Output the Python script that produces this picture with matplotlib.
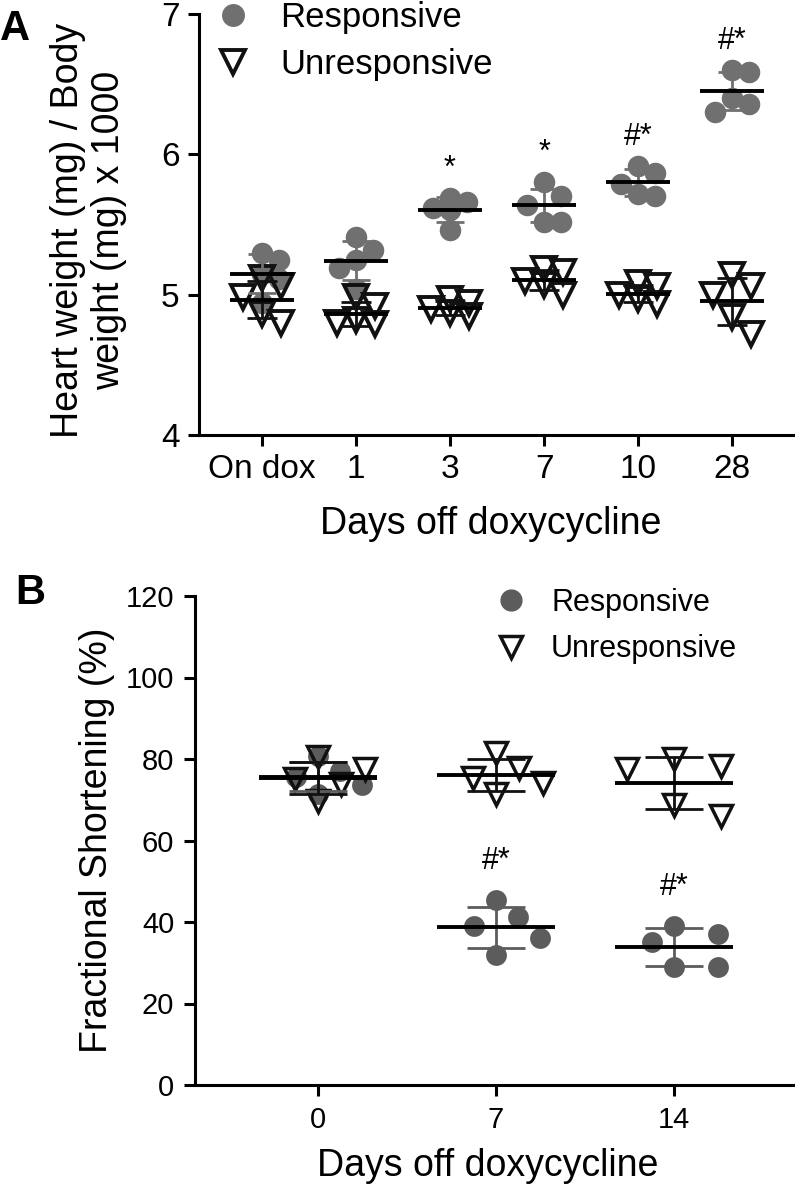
import matplotlib
matplotlib.use('Agg')
import matplotlib.pyplot as plt
from matplotlib.lines import Line2D
import numpy as np

plt.rcParams['font.family'] = ['Liberation Sans', 'DejaVu Sans']

# Panel A: heart weight / body weight x 1000
days_a = ['On dox', '1', '3', '7', '10', '28']
resp_a = [
    [5.30, 5.25, 5.15, 5.11, 4.94],
    [5.41, 5.32, 5.25, 5.19, 5.04],
    [5.69, 5.66, 5.62, 5.60, 5.46],
    [5.80, 5.70, 5.64, 5.52, 5.52],
    [5.92, 5.87, 5.79, 5.72, 5.70],
    [6.60, 6.59, 6.40, 6.36, 6.30],
]
unresp_a = [
    [5.12, 5.06, 4.98, 4.86, 4.80],
    [4.98, 4.92, 4.82, 4.80, 4.79],
    [4.97, 4.94, 4.90, 4.87, 4.85],
    [5.18, 5.16, 5.10, 5.07, 5.00],
    [5.08, 5.06, 5.00, 4.97, 4.93],
    [5.14, 5.06, 5.00, 4.84, 4.72],
]
signif_a = ['', '', '*', '*', '#*', '#*']

# Panel B: fractional shortening (%)
days_b = ['0', '7', '14']
resp_b = [
    [80.8, 77.1, 75.5, 73.5, 71.4],
    [45.3, 41.2, 38.9, 36.1, 31.8],
    [38.9, 37.1, 35.1, 28.9, 28.9],
]
unresp_b = [
    [80.4, 77.6, 75.1, 73.9, 69.8],
    [81.5, 77.8, 75.4, 74.2, 71.3],
    [80.0, 78.2, 77.6, 68.8, 66.0],
]
signif_b = ['', '#*', '#*']

W, H = 795, 1190
fig = plt.figure(figsize=(W / 100, H / 100), dpi=100)


def swarm_x(ax, center, vals, diam, spread=1, step=0.8, gap=0.9):
    # small beeswarm in pixel space, overlap allowed like the original software
    vals = np.asarray(vals, float)
    disp = ax.transData.transform(np.column_stack([np.full(len(vals), center), vals]))
    x0, ys = disp[0, 0], disp[:, 1]
    placed = []
    dxs = np.zeros(len(vals))
    ks = [0]
    for k in range(1, spread + 1):
        ks += [k, -k]
    for i in np.argsort(ys)[::-1]:
        best, best_d = 0.0, -1
        for k in ks:
            cand = k * diam * step
            d = min([np.hypot(cand - px, ys[i] - py) for px, py in placed] + [1e9])
            if d >= gap * diam:
                best = cand
                break
            if d > best_d:
                best, best_d = cand, d
        placed.append((best, ys[i]))
        dxs[i] = best
    inv = ax.transData.inverted()
    return inv.transform(np.column_stack([x0 + dxs, ys]))[:, 0]


def style_axis(ax, tick_fs, pad):
    for s in ['top', 'right']:
        ax.spines[s].set_visible(False)
    for s in ['left', 'bottom']:
        ax.spines[s].set_linewidth(2.2)
    ax.tick_params(width=2.2, length=8, labelsize=tick_fs, pad=pad, direction='out')


def draw_group(ax, xc, vals, marker, ms, face, edge, ebar_col, capsize, half, mew,
               spread, step, gap):
    xs = swarm_x(ax, xc, vals, ms * 100 / 72, spread, step, gap)
    ax.plot(xs, vals, linestyle='none', marker=marker, ms=ms, mfc=face, mec=edge,
            mew=mew, zorder=2, clip_on=False)
    m, sd = np.mean(vals), np.std(vals, ddof=1)
    ax.errorbar(xc, m, yerr=sd, fmt='none', ecolor=ebar_col, elinewidth=2.0,
                capsize=capsize, capthick=2.0, zorder=3)
    ax.hlines(m, xc - half, xc + half, color='black', lw=2.8, zorder=4)


# ---------------- Panel A ----------------
gray_a = '#707070'
ax1 = fig.add_axes([199 / W, 1 - 435 / H, 1 - 199 / W, (435 - 14) / H])
ax1.set_xlim(-0.67, 5.67)
ax1.set_ylim(4, 7)
ax1.set_yticks([4, 5, 6, 7])
ax1.set_xticks(range(len(days_a)))
ax1.set_xticklabels(days_a)
style_axis(ax1, 24, 6)

for i in range(len(days_a)):
    draw_group(ax1, i, resp_a[i], 'o', 15.5, gray_a, gray_a, gray_a, 10, 0.34, 0, 1, 0.8, 0.9)
    draw_group(ax1, i, unresp_a[i], 'v', 17, 'none', '#111111', '#111111', 11, 0.34, 2.8, 1, 0.8, 0.9)
    if signif_a[i]:
        ax1.text(i, max(resp_a[i]) + 0.1, signif_a[i], ha='center', va='bottom', fontsize=22)

ax1.set_ylabel('Heart weight (mg) / Body\nweight (mg) x 1000', fontsize=27, ma='center', va='center')
ax1.yaxis.set_label_coords(-0.185, 0.487)
ax1.set_xlabel('Days off doxycycline', fontsize=27, va='center')
ax1.xaxis.set_label_coords(0.49, -0.211)

handles_a = [Line2D([], [], ls='none', marker='o', ms=15.5, mfc=gray_a, mec=gray_a),
             Line2D([], [], ls='none', marker='v', ms=17, mfc='none', mec='#111111', mew=2.8)]
ax1.legend(handles_a, ['Responsive', 'Unresponsive'], loc='center left',
           bbox_to_anchor=(216 / W, 1 - 41 / H), bbox_transform=fig.transFigure,
           frameon=False, fontsize=25, borderpad=0, handlelength=1.0,
           handletextpad=0.85, labelspacing=0.42, borderaxespad=0)

fig.text(0, 1 - 40 / H, 'A', fontsize=30, fontweight='bold', va='baseline')

# ---------------- Panel B ----------------
gray_b = '#5c5c5c'
ax2 = fig.add_axes([195 / W, 1 - 1085 / H, 1 - 195 / W, (1085 - 596) / H])
ax2.set_xlim(-0.69, 2.68)
ax2.set_ylim(0, 120)
ax2.set_yticks(range(0, 121, 20))
ax2.set_xticks(range(len(days_b)))
ax2.set_xticklabels(days_b)
style_axis(ax2, 21, 7)

for i in range(len(days_b)):
    draw_group(ax2, i, resp_b[i], 'o', 15, gray_b, gray_b, gray_b, 21, 0.33, 0, 2, 1.05, 1.2)
    draw_group(ax2, i, unresp_b[i], 'v', 16, 'none', '#111111', '#111111', 21, 0.33, 2.5, 2, 1.05, 1.2)
    if signif_b[i]:
        ax2.text(i, max(resp_b[i]) + 6, signif_b[i], ha='center', va='bottom', fontsize=22)

ax2.set_ylabel('Fractional Shortening (%)', fontsize=27, va='center')
ax2.yaxis.set_label_coords(-0.163, 0.5)
ax2.set_xlabel('Days off doxycycline', fontsize=27, va='center')
ax2.xaxis.set_label_coords(0.488, -0.166)

handles_b = [Line2D([], [], ls='none', marker='o', ms=15, mfc=gray_b, mec=gray_b),
             Line2D([], [], ls='none', marker='v', ms=16, mfc='none', mec='#111111', mew=2.5)]
ax2.legend(handles_b, ['Responsive', 'Unresponsive'], loc='center left',
           bbox_to_anchor=(496 / W, 1 - 626 / H), bbox_transform=fig.transFigure,
           frameon=False, fontsize=22, borderpad=0, handlelength=1.0,
           handletextpad=0.8, labelspacing=0.55, borderaxespad=0)

fig.text(15 / W, 1 - 604 / H, 'B', fontsize=30, fontweight='bold', va='baseline')

fig.savefig('out.png', dpi=100)
